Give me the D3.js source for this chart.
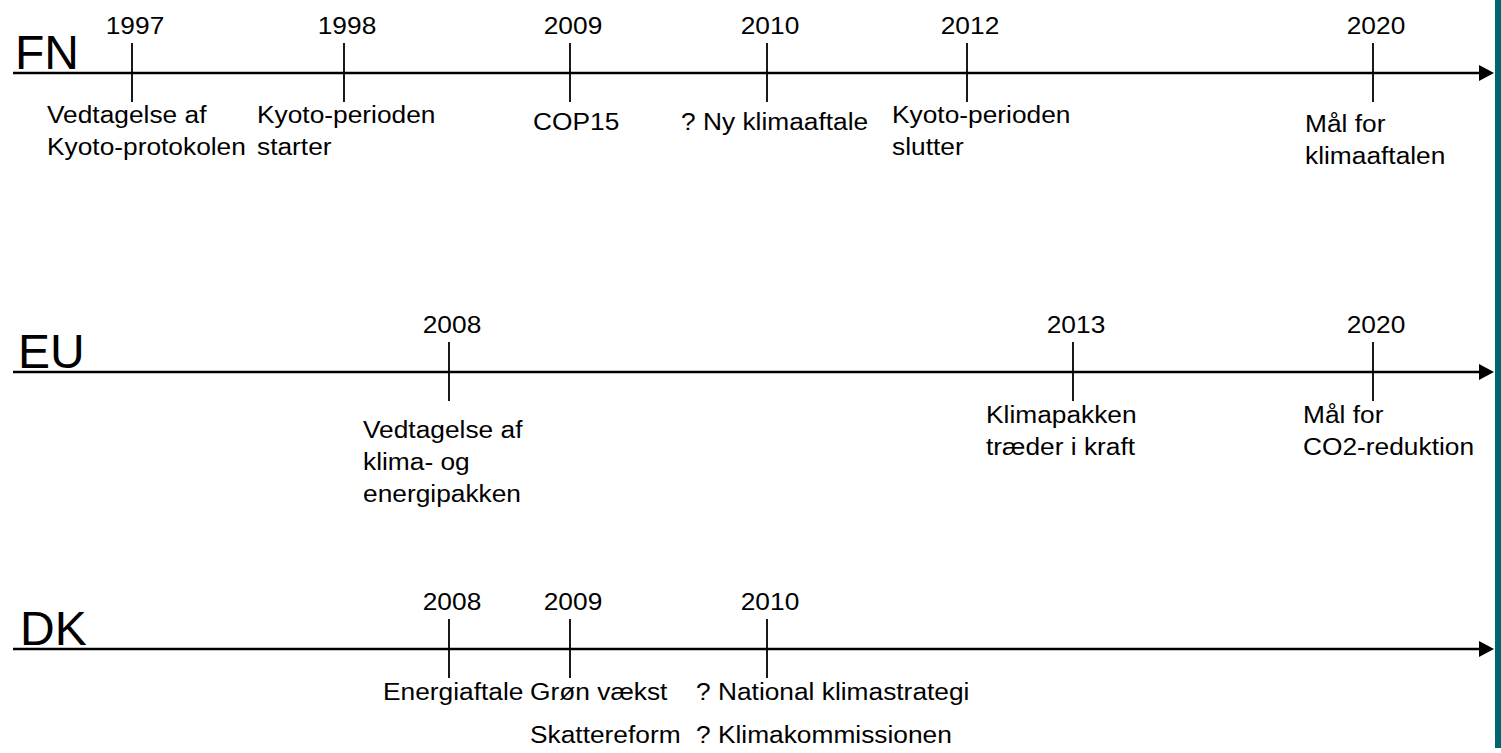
<!DOCTYPE html>
<html>
<head>
<meta charset="utf-8">
<script src="https://cdn.jsdelivr.net/npm/d3@7"></script>
<style>
  body { margin: 0; background: #fff; }
  svg { display: block; }
  text { font-family: "Liberation Sans", Arial, sans-serif; fill: #000; }
</style>
</head>
<body>
<div id="chart"></div>
<script>
// rows of the timeline
const rows = ["FN", "EU", "DK"];

// FN events
const fnYears = [1997, 1998, 2009, 2010, 2012, 2020];
const fnNotes = [
  ["Vedtagelse af", "Kyoto-protokolen"],
  ["Kyoto-perioden", "starter"],
  ["COP15"],
  ["? Ny klimaaftale"],
  ["Kyoto-perioden", "slutter"],
  ["Mål for", "klimaaftalen"]
];

// EU events
const euYears = [2008, 2013, 2020];
const euNotes = [
  ["Vedtagelse af", "klima- og", "energipakken"],
  ["Klimapakken", "træder i kraft"],
  ["Mål for", "CO2-reduktion"]
];

// DK events
const dkYears = [2008, 2009, 2010];
const dkNotes = [
  ["Energiaftale"],
  ["Grøn vækst", "Skattereform"],
  ["? National klimastrategi", "? Klimakommissionen"]
];

// the time axis is not linear, the years sit on fixed slots
const slotYears = [1997, 1998, 2008, 2009, 2010, 2012, 2013, 2020];
const slotX = [132, 344, 449, 570, 767, 967, 1073, 1373];

// layout per row (offsets of the note boxes from the tick)
const layout = {
  FN: {y: 73, labelX: 15, noteDx: [-85, -87, -37, -86, -75, -68], noteDy: [50, 50, 57, 57, 50, 59], lineH: 32},
  EU: {y: 372, labelX: 18, noteDx: [-86, -87, -70], noteDy: [66, 51, 51], lineH: 32},
  DK: {y: 649, labelX: 20, noteDx: [-66, -40, -71], noteDy: [51, 51, 51], lineH: 43}
};

const width = 1501, height = 753;
const axisStart = 13, axisEnd = 1494;
const stretch = 1.12;
const fontSize = "23.5px";

const x = d3.scaleLinear().domain(slotYears).range(slotX);

const svg = d3.select("#chart").append("svg")
  .attr("width", width)
  .attr("height", height);

// teal edge on the right
svg.append("rect")
  .attr("x", 1495).attr("y", 0)
  .attr("width", 6).attr("height", 748)
  .attr("fill", "#00646e");

const rowData = {
  FN: {years: fnYears, notes: fnNotes},
  EU: {years: euYears, notes: euNotes},
  DK: {years: dkYears, notes: dkNotes}
};

rows.forEach(function(name) {
  const lay = layout[name];
  const data = rowData[name];
  const g = svg.append("g").attr("class", "row-" + name);

  // axis line with arrow
  g.append("line")
    .attr("x1", axisStart).attr("x2", axisEnd - 14)
    .attr("y1", lay.y).attr("y2", lay.y)
    .attr("stroke", "#000")
    .attr("stroke-width", 2.5);
  g.append("path")
    .attr("d", `M${axisEnd},${lay.y} L${axisEnd - 15},${lay.y - 8} L${axisEnd - 15},${lay.y + 8} Z`)
    .attr("fill", "#000");

  // row name
  g.append("text")
    .attr("x", lay.labelX)
    .attr("y", lay.y - 4.5)
    .style("font-size", "48px")
    .text(name);

  const events = data.years.map(function(yr, i) {
    return {year: yr, lines: data.notes[i], dx: lay.noteDx[i], dy: lay.noteDy[i]};
  });

  const ev = g.selectAll("g.event").data(events).enter()
    .append("g").attr("class", "event");

  ev.append("line")
    .attr("x1", d => x(d.year)).attr("x2", d => x(d.year))
    .attr("y1", lay.y - 30).attr("y2", lay.y + 29)
    .attr("stroke", "#000")
    .attr("stroke-width", 1.8);

  ev.append("text")
    .attr("transform", d => `translate(${x(d.year) + 3},${lay.y - 39}) scale(${stretch},1)`)
    .attr("text-anchor", "middle")
    .style("font-size", fontSize)
    .text(d => d.year);

  ev.each(function(d) {
    const t = d3.select(this).append("g")
      .attr("transform", `translate(${x(d.year) + d.dx},${lay.y + d.dy})`);
    t.selectAll("text").data(d.lines).enter()
      .append("text")
      .attr("transform", (s, j) => `translate(0,${j * lay.lineH}) scale(${stretch},1)`)
      .style("font-size", fontSize)
      .text(s => s);
  });
});
</script>
</body>
</html>
